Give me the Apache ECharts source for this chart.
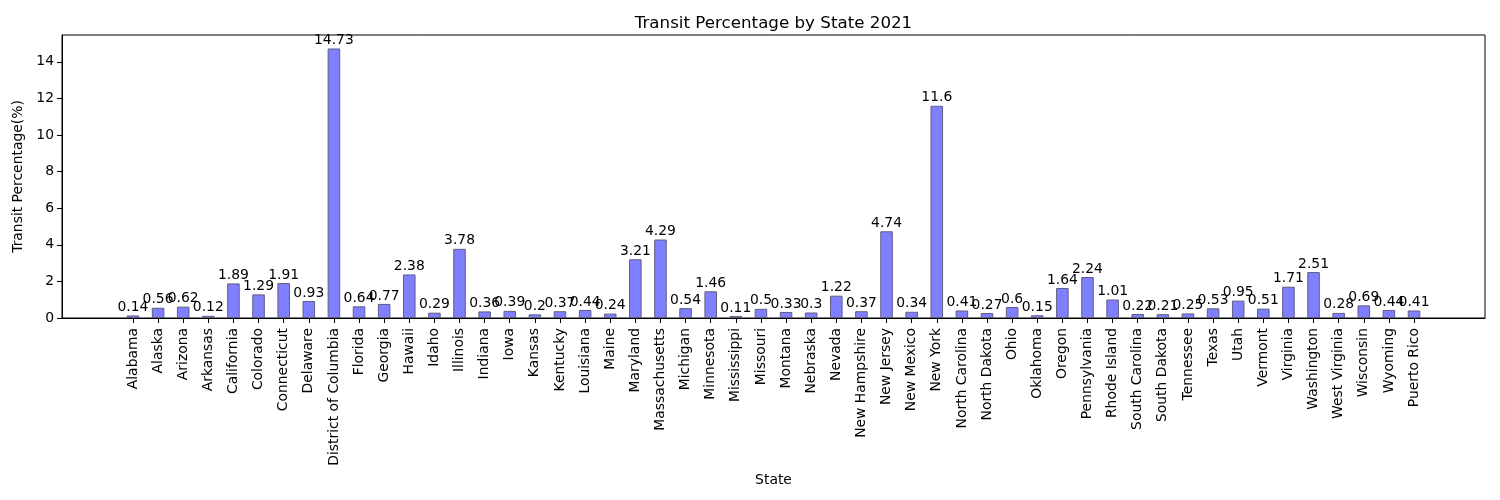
<!DOCTYPE html>
<html>
<head>
<meta charset="utf-8">
<script src="https://cdn.jsdelivr.net/npm/echarts@6/dist/echarts.min.js"></script>
<style>
  html, body { margin: 0; padding: 0; background: #fff; }
  #main { width: 1500px; height: 500px; }
</style>
</head>
<body>
<div id="main"></div>
<script>
var states = ['Alabama', 'Alaska', 'Arizona', 'Arkansas', 'California', 'Colorado', 'Connecticut',
    'Delaware', 'District of Columbia', 'Florida', 'Georgia', 'Hawaii', 'Idaho', 'Illinois',
    'Indiana', 'Iowa', 'Kansas', 'Kentucky', 'Louisiana', 'Maine', 'Maryland', 'Massachusetts',
    'Michigan', 'Minnesota', 'Mississippi', 'Missouri', 'Montana', 'Nebraska', 'Nevada',
    'New Hampshire', 'New Jersey', 'New Mexico', 'New York', 'North Carolina', 'North Dakota',
    'Ohio', 'Oklahoma', 'Oregon', 'Pennsylvania', 'Rhode Island', 'South Carolina',
    'South Dakota', 'Tennessee', 'Texas', 'Utah', 'Vermont', 'Virginia', 'Washington',
    'West Virginia', 'Wisconsin', 'Wyoming', 'Puerto Rico'];
var transitPct = [0.14, 0.56, 0.62, 0.12, 1.89, 1.29, 1.91,
    0.93, 14.73, 0.64, 0.77, 2.38, 0.29, 3.78,
    0.36, 0.39, 0.2, 0.37, 0.44, 0.24, 3.21, 4.29,
    0.54, 1.46, 0.11, 0.5, 0.33, 0.3, 1.22,
    0.37, 4.74, 0.34, 11.6, 0.41, 0.27,
    0.6, 0.15, 1.64, 2.24, 1.01, 0.22,
    0.21, 0.25, 0.53, 0.95, 0.51, 1.71, 2.51,
    0.28, 0.69, 0.44, 0.41];
var yTicks = [0, 2, 4, 6, 8, 10, 12, 14];

var myChart = echarts.init(document.getElementById('main'));
var font = 'DejaVu Sans';
var fs = 13.9;

// matplotlib style margins: 5% of bar extent on each side
var barW = 0.5;
var span = (states.length - 1) + barW;
var xMin = -barW / 2 - span * 0.05;
var xMax = states.length - 1 + barW / 2 + span * 0.05;
var yMax = Math.max.apply(null, transitPct) * 1.05;

var gridLeft = 62, gridRight = 15;
var plotW = 1500 - gridLeft - gridRight;
var barPx = plotW / (xMax - xMin) * barW;

var xIdx = states.map(function (s, i) { return i; });
var seriesData = transitPct.map(function (v, i) { return [i, v]; });

var option = {
    animation: false,
    title: {
        text: 'Transit Percentage by State 2021',
        left: gridLeft + plotW / 2,
        textAlign: 'center',
        top: 15,
        padding: 0,
        textStyle: { fontFamily: font, fontSize: 16.7, fontWeight: 'normal', color: '#000' }
    },
    grid: {
        left: gridLeft, right: gridRight, top: 35, bottom: 182,
        show: true, borderColor: '#000', borderWidth: 1, backgroundColor: 'transparent'
    },
    xAxis: {
        type: 'value',
        min: xMin,
        max: xMax,
        name: 'State',
        nameLocation: 'middle',
        nameGap: 152,
        nameTextStyle: { fontFamily: font, fontSize: fs, color: '#000' },
        axisLine: { show: true, onZero: false, lineStyle: { color: '#000' } },
        axisTick: { show: true, length: 5, customValues: xIdx, lineStyle: { color: '#000' } },
        axisLabel: {
            customValues: xIdx,
            rotate: 90,
            margin: 10,
            fontFamily: font, fontSize: fs, color: '#000',
            formatter: function (v) { return states[Math.round(v)]; }
        },
        splitLine: { show: false }
    },
    yAxis: {
        type: 'value',
        min: 0,
        max: yMax,
        name: 'Transit Percentage(%)',
        nameLocation: 'middle',
        nameGap: 32,
        nameTextStyle: { fontFamily: font, fontSize: fs, color: '#000' },
        axisLine: { show: true, onZero: false, lineStyle: { color: '#000' } },
        axisTick: { show: true, length: 5, customValues: yTicks, lineStyle: { color: '#000' } },
        axisLabel: {
            customValues: yTicks,
            margin: 8,
            fontFamily: font, fontSize: fs, color: '#000'
        },
        splitLine: { show: false }
    },
    series: [{
        type: 'bar',
        data: seriesData,
        barWidth: barPx,
        itemStyle: { color: '#7f7fff', borderColor: '#5f5f80', borderWidth: 1 },
        label: {
            show: true,
            position: 'top',
            distance: 1,
            fontFamily: font, fontSize: fs, color: '#000',
            formatter: function (p) { return String(p.value[1]); }
        }
    }]
};
myChart.setOption(option);
</script>
</body>
</html>
